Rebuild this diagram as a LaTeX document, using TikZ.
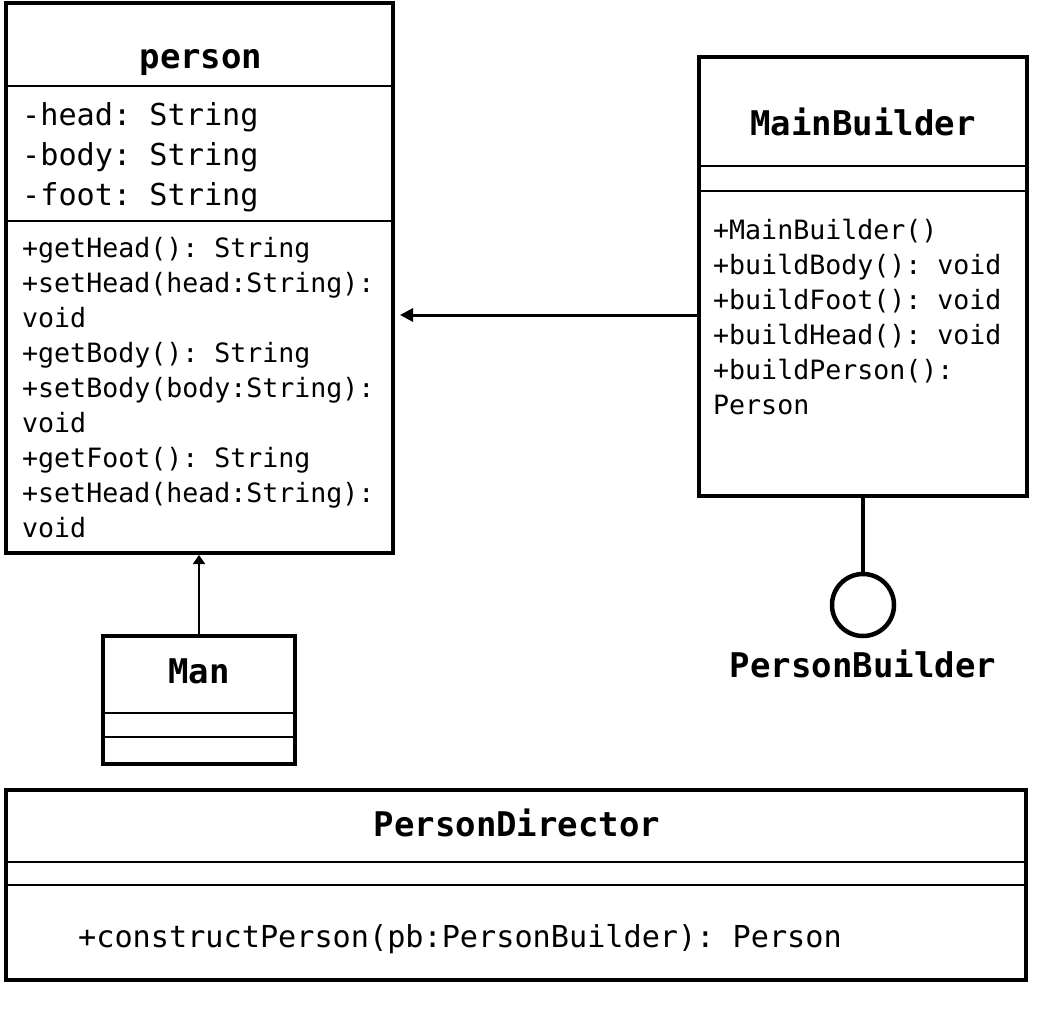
\documentclass[tikz,border=0pt]{standalone}
\usepackage{fontspec}
\setmonofont{DejaVu Sans Mono}
\usetikzlibrary{arrows.meta}
\tikzset{
  cls/.style={draw, line width=4.5pt, anchor=north west, inner sep=0pt, outer sep=0pt},
  sep/.style={line width=2.5pt},
  ttl/.style={anchor=base, inner sep=0pt, font=\ttfamily\bfseries\fontsize{34}{40}\selectfont},
  attr/.style={anchor=base west, inner sep=0pt, font=\ttfamily\fontsize{30.2}{40}\selectfont},
  meth/.style={anchor=base west, inner sep=0pt, font=\ttfamily\fontsize{26.6}{35}\selectfont},
  dep/.style={line width=3pt, -{Triangle[length=13pt,width=13pt]}},
  gen/.style={line width=2pt, -{Triangle[length=9pt,width=12pt]}},
}
\begin{document}
\begin{tikzpicture}[x=1pt,y=-1pt]
\useasboundingbox (0,0) rectangle (1058,1009);
% person
\node[cls, minimum width=387pt, minimum height=550pt] (person) at (6,3) {};
\coordinate (ps1a) at (6,86); \coordinate (ps1b) at (393,86);
\coordinate (ps2a) at (6,221); \coordinate (ps2b) at (393,221);
\draw[sep] (ps1a) -- (ps1b);
\draw[sep] (ps2a) -- (ps2b);
\node[ttl] (ptitle) at (201,68) {person};
\foreach \t [count=\i from 0] in {-head: String,-body: String,-foot: String}
  \node[attr] (pa\i) at (22,125+40*\i) {\t};
\foreach \t [count=\i from 0] in {+getHead(): String,+setHead(head:String):,void,+getBody(): String,+setBody(body:String):,void,+getFoot(): String,+setHead(head:String):,void}
  \node[meth] (pm\i) at (22,257+35*\i) {\t};
% MainBuilder
\node[cls, minimum width=328pt, minimum height=439pt] (mb) at (699,57) {};
\coordinate (ms1a) at (699,166); \coordinate (ms1b) at (1027,166);
\coordinate (ms2a) at (699,191); \coordinate (ms2b) at (1027,191);
\draw[sep] (ms1a) -- (ms1b);
\draw[sep] (ms2a) -- (ms2b);
\node[ttl] (mtitle) at (863,135) {MainBuilder};
\foreach \t [count=\i from 0] in {+MainBuilder(),+buildBody(): void,+buildFoot(): void,+buildHead(): void,+buildPerson():,Person}
  \node[meth] (mm\i) at (713,239+35*\i) {\t};
% interface lollipop
\node[draw, circle, line width=4.5pt, minimum size=62pt, inner sep=0pt] (pbc) at (863,605) {};
\node[ttl] (pbl) at (863,677) {PersonBuilder};
\draw[line width=4.5pt] (mb.south) -- (pbc.north);
% Man
\node[cls, minimum width=192pt, minimum height=128pt] (man) at (103,636) {};
\coordinate (mn1a) at (103,713); \coordinate (mn1b) at (295,713);
\coordinate (mn2a) at (103,737); \coordinate (mn2b) at (295,737);
\draw[sep] (mn1a) -- (mn1b);
\draw[sep] (mn2a) -- (mn2b);
\node[ttl] (mantitle) at (199,683) {Man};
% PersonDirector
\node[cls, minimum width=1020pt, minimum height=190pt] (pd) at (6,790) {};
\coordinate (pd1a) at (6,862); \coordinate (pd1b) at (1026,862);
\coordinate (pd2a) at (6,885); \coordinate (pd2b) at (1026,885);
\draw[sep] (pd1a) -- (pd1b);
\draw[sep] (pd2a) -- (pd2b);
\node[ttl] (pdtitle) at (517,836) {PersonDirector};
\node[attr] (pdm) at (78,947) {+constructPerson(pb:PersonBuilder): Person};
% connectors
\coordinate (mbw) at (699,315);
\coordinate (pe) at (400,315);
\draw[dep] (mbw) -- (pe);
\coordinate (mann) at (199,636);
\coordinate (pbot) at (199,555);
\draw[gen] (mann) -- (pbot);
\end{tikzpicture}
\end{document}
